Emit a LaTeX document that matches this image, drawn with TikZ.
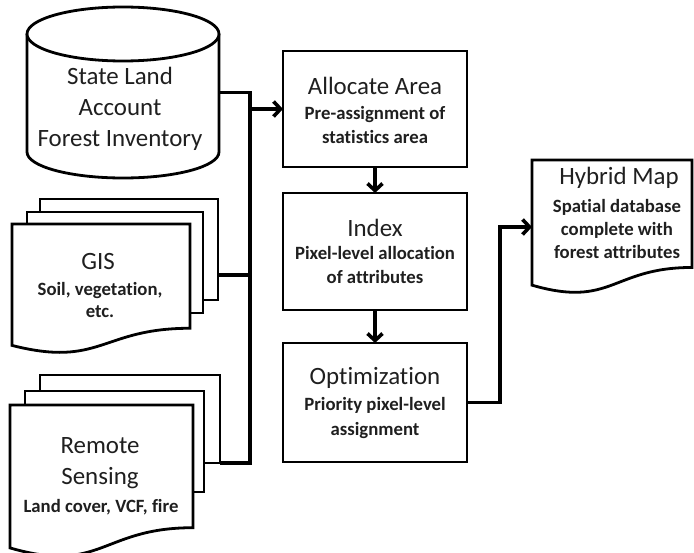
\documentclass[tikz,border=0pt]{standalone}
\usepackage{fontspec}
\setmainfont[Ligatures=CommonOff]{Carlito}
\usetikzlibrary{arrows.meta,calc}
\newcommand\docpath[1]{\draw[shp] (#1.north west) -- (#1.north east) -- ($(#1.north east)!0.802!(#1.south east)$) .. controls ($(#1.north)!0.802!(#1.south)$) and ($(#1.north)!1.1075!(#1.south)$) .. ($(#1.north west)!0.934!(#1.south west)$) -- cycle;}
\begin{document}
\begin{tikzpicture}[x=1bp,y=-1bp,
  shp/.style={line width=2.8bp, fill=white, line join=miter},
  conn/.style={line width=3.6bp},
  arr/.style={conn,-{Straight Barb[length=7bp,width=15bp]}},
  frame/.style={rectangle, inner sep=0pt, outer sep=0pt},
  box/.style={frame, shp, draw},
  ttl/.style={font=\fontsize{25}{31}\selectfont, align=center, text=black!88, inner sep=0pt},
  sub/.style={font=\bfseries\fontsize{18.8}{24.5}\selectfont, align=center, text=black!88, inner sep=0pt},
]
\useasboundingbox (0,0) rectangle (694,553);

% ---- cylinder
\node[frame, minimum width=192bp, minimum height=171bp] (sla) at (123,92.5) {};
\draw[shp] (27,34) -- (27,152) .. controls (27,166.4) and (70,178) .. (123,178)
  .. controls (176,178) and (219,166.4) .. (219,152) -- (219,34);
\draw[shp] (123,34) ellipse [x radius=96, y radius=27];
\node[ttl] (slat) at (120,109) {State Land\\Account\\Forest Inventory};

% ---- GIS stack
\node[box, minimum width=178bp, minimum height=101bp] (gisB) at (129,249.5) {};
\node[box, minimum width=176bp, minimum height=101bp] (gisM) at (115,262.5) {};
\node[frame, minimum width=178bp, minimum height=130bp] (gis) at (101,289) {};
\docpath{gis}
\node[ttl] (gist) at (98,262) {GIS};
\node[sub, font=\bfseries\fontsize{18.8}{22.5}\selectfont] (giss) at (100,300) {Soil, vegetation,\\etc.};

% ---- Remote sensing stack
\node[box, minimum width=180bp, minimum height=88bp] (remB) at (130,419) {};
\node[box, minimum width=179bp, minimum height=101bp] (remM) at (114.5,441.5) {};
\node[frame, minimum width=183bp, minimum height=153bp] (rem) at (101.5,481.5) {};
\docpath{rem}
\node[ttl] (remt) at (100,463) {Remote\\Sensing};
\node[sub] (rems) at (101,507) {Land cover, VCF, fire};

% ---- process boxes
\node[box, minimum width=184bp, minimum height=116bp] (alloc) at (375,109) {};
\node[ttl] (allt) at (375,86) {Allocate Area};
\node[sub] (alls) at (375,125) {Pre-assignment of\\statistics area};

\node[box, minimum width=184bp, minimum height=117bp] (index) at (375,251.5) {};
\node[ttl] (indt) at (375,228) {Index};
\node[sub] (inds) at (375,265) {Pixel-level allocation\\of attributes};

\node[box, minimum width=184bp, minimum height=119bp] (opt) at (375,402.5) {};
\node[ttl] (optt) at (375,378) {Optimization};
\node[sub] (opts) at (375,418) {Priority pixel-level\\assignment};

% ---- hybrid map
\node[frame, minimum width=160bp, minimum height=134bp] (hyb) at (612,227) {};
\docpath{hyb}
\node[ttl] (hybt) at (619,178) {Hybrid Map};
\node[sub, font=\bfseries\fontsize{18.8}{23.5}\selectfont] (hybs) at (617,229) {Spatial database\\complete with\\forest attributes};

% ---- connectors
\coordinate (j) at ($(alloc.west)+(-33,0)$);
\draw[conn] (sla.east) -- (sla.east -| j) -- (remB.south east -| j) -- (remB.south east);
\coordinate (gc) at ($(gisB.south east)!0.25!(gisB.north east)$);
\draw[conn] (gc) -- (gc -| j);
\draw[arr] (j) -- (alloc.west);
\draw[arr] (alloc.south) -- (index.north);
\draw[arr] (index.south) -- (opt.north);
\coordinate (k) at ($(hyb.west)+(-32,0)$);
\draw[arr] (opt.east) -- (opt.east -| k) -- (k) -- (hyb.west);
\end{tikzpicture}
\end{document}
